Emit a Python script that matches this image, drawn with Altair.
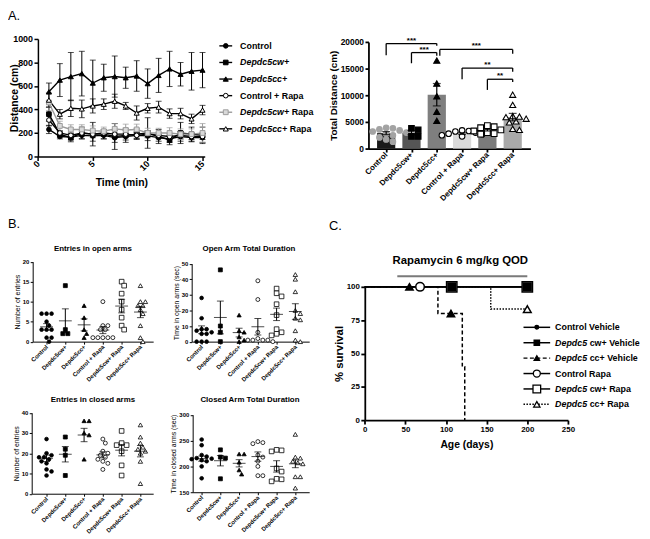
import altair as alt
import pandas as pd

FONT = "Liberation Sans"
W, H = 642, 531

# ---------------- Panel A (left): distance per minute (mean, SEM) ----------------
TIME_MIN = list(range(1, 16))
A_GROUPS = ["Control", "Depdc5cw+", "Depdc5cc+", "Control + Rapa", "Depdc5cw+ Rapa", "Depdc5cc+ Rapa"]
DIST_CONTROL = [230, 170, 165, 180, 175, 180, 160, 170, 180, 175, 160, 150, 170, 160, 160]
DIST_CW = [360, 190, 160, 200, 190, 190, 170, 180, 190, 200, 170, 140, 200, 190, 180]
DIST_CC = [550, 650, 680, 705, 625, 670, 680, 670, 685, 620, 690, 745, 700, 725, 735]
DIST_CONTROL_RAPA = [310, 200, 180, 200, 190, 200, 190, 190, 180, 190, 180, 170, 180, 170, 170]
DIST_CW_RAPA = [460, 260, 230, 230, 220, 215, 235, 225, 230, 200, 200, 200, 190, 190, 200]
DIST_CC_RAPA = [480, 360, 410, 405, 430, 445, 470, 430, 370, 410, 420, 365, 365, 320, 395]
SEM_CONTROL = [35, 20, 25, 30, 45, 30, 40, 30, 30, 40, 30, 30, 40, 35, 40]
SEM_CW = [60, 25, 35, 50, 100, 40, 110, 60, 45, 130, 60, 40, 90, 60, 70]
SEM_CC = [75, 140, 205, 190, 195, 115, 175, 90, 130, 125, 145, 150, 100, 160, 150]
SEM_CONTROL_RAPA = [50, 20, 20, 25, 30, 25, 30, 30, 25, 30, 25, 25, 30, 25, 25]
SEM_CW_RAPA = [70, 40, 40, 40, 40, 35, 45, 50, 45, 40, 40, 45, 45, 45, 80]
SEM_CC_RAPA = [60, 40, 70, 75, 60, 45, 60, 30, 60, 40, 50, 40, 45, 40, 40]

# ---------------- Panel A (right): total distance ----------------
TOTAL_CONTROL = [3900, 3800, 3600, 3400, 3200, 3000, 2800, 2500, 2100, 1700, 1300]
TOTAL_CW = [3800, 3500, 2300, 2300]
TOTAL_CC = [16500, 12200, 9800, 6900, 5200]
TOTAL_CONTROL_RAPA = [3400, 3300, 3200, 3000, 2800, 2700, 2500, 2300]
TOTAL_CW_RAPA = [4300, 4100, 3900, 3500, 3300, 3000, 2800, 2700]
TOTAL_CC_RAPA = [10100, 8200, 6100, 6000, 5900, 5600, 5100, 4900, 3700, 3500]
TOTAL_MEAN = [2900, 3000, 10100, 2800, 3500, 5900]
TOTAL_SEM = [280, 400, 2100, 150, 220, 700]
SIG_LEFT = ["Control", "Depdc5cw+", "Depdc5cc+", "Control + Rapa", "Depdc5cw+ Rapa"]
SIG_RIGHT = ["Depdc5cc+", "Depdc5cc+", "Depdc5cc+ Rapa", "Depdc5cc+ Rapa", "Depdc5cc+ Rapa"]
SIG_TOP = [19700, 18000, 18600, 15100, 13000]
SIG_LEFT_END = [17500, 16000, 17400, 13000, 11000]
SIG_RIGHT_END = [19300, 17400, 17800, 14400, 12500]
SIG_LABEL = ["***", "***", "***", "**", "**"]

# ---------------- Panel B: elevated plus maze ----------------
OPEN_ENTRIES = [[7, 7, 7, 5, 4, 3, 3, 3, 1, 1, 0], [14, 3, 2, 2], [9, 6, 3, 2, 1],
                [10, 4, 4, 3, 3, 1, 1, 1, 1, 1], [15, 14, 12, 10, 8, 6, 4, 3],
                [14, 10, 10, 9, 9, 8, 7, 4, 1, 0]]
OPEN_ENTRIES_MEAN = [3.7, 5.2, 4.2, 2.9, 8.9, 7.4]
OPEN_ENTRIES_SEM = [0.8, 3.0, 1.5, 0.9, 1.7, 1.4]

OPEN_TIME = [[28, 15, 8, 8, 7, 6, 5, 5, 0, 0, 0], [46, 10, 6, 0], [17, 7, 6, 3, 1, 0],
             [39, 27, 6, 2, 1, 1, 1, 1, 0], [34, 31, 29, 24, 17, 8, 6, 5, 4],
             [43, 40, 32, 20, 18, 15, 14, 7, 1, 0]]
OPEN_TIME_MEAN = [7.6, 15.5, 5.8, 9.5, 17.5, 19.3]
OPEN_TIME_SEM = [2.5, 10.5, 2.8, 5.3, 4.0, 5.0]

CLOSED_ENTRIES = [[27, 20, 19, 18, 18, 17, 16, 15, 12, 11, 9], [28, 22, 19, 9], [36, 36, 30, 29, 17],
                  [27, 25, 21, 20, 19, 18, 17, 16, 15, 12], [31, 25, 24, 24, 21, 14, 9],
                  [34, 28, 25, 23, 22, 21, 20, 16, 5]]
CLOSED_ENTRIES_MEAN = [17.5, 19.5, 29.0, 19.2, 21.5, 21.0]
CLOSED_ENTRIES_SEM = [1.6, 3.8, 3.3, 1.5, 2.8, 2.8]

CLOSED_TIME = [[252, 241, 222, 219, 216, 215, 214, 212, 210, 200, 177], [232, 218, 216, 176],
               [224, 224, 208, 193, 185], [248, 246, 244, 222, 218, 210, 200, 182, 182],
               [232, 231, 229, 196, 190, 176, 175, 171], [262, 218, 216, 210, 207, 205, 180, 180, 158]]
CLOSED_TIME_MEAN = [215, 211, 206, 219, 200, 205]
CLOSED_TIME_SEM = [5, 10, 7, 9, 11, 7.5]

# ---------------- Panel C: survival ----------------
C_GROUPS = ["Control Vehicle", "Depdc5 cw+ Vehicle", "Depdc5 cc+ Vehicle",
            "Control Rapa", "Depdc5 cw+ Rapa", "Depdc5 cc+ Rapa"]
SURV_DAYS = [[0, 202], [0, 202], [0, 90, 120, 123], [0, 202], [0, 202], [0, 155, 202]]
SURV_PCT = [[100, 100], [100, 100], [100, 80, 40, 0], [100, 100], [100, 100], [100, 83.3, 83.3]]
CENSOR_DAYS = [[200], [107, 200], [55, 106], [68], [107, 200], [200]]
CENSOR_PCT = [[100], [100, 100], [100, 80], [100], [100, 100], [83.3]]
RAPA_START_DAY, RAPA_END_DAY = 40, 200

# ---------------- styles ----------------
SHAPES = ["circle", "square", "triangle-up", "circle", "square", "triangle-up"]
A_COLOR = ["black", "black", "black", "black", "#9b9b9b", "black"]
A_FILL = ["black", "black", "black", "white", "#d9d9d9", "white"]
A_SIZE = [22, 22, 26, 22, 24, 26]
BAR_FILL = ["#1a1a1a", "#555555", "#7f7f7f", "#dadada", "#7b7b7b", "#a9a9a9"]
BAR_PT_FILL = ["#a3a3a3", "black", "black", "white", "white", "white"]
BAR_PT_STROKE = ["#a3a3a3", "black", "black", "black", "black", "black"]
BAR_PT_SIZE = [32, 32, 38, 32, 34, 38]
B_FILL = ["black", "black", "black", "white", "white", "white"]
B_SIZE = [14, 16, 18, 16, 22, 20]
C_DASH = [None, None, [4, 2.5], None, None, [1.5, 1.5]]
C_FILL = ["black", "black", "black", "white", "white", "white"]
C_SIZE = [14, 60, 55, 75, 110, 60]
C_LEG_SIZE = [14, 30, 30, 50, 60, 40]

BOLD_W = {' ': 278, '+': 584, 'D': 722, 'e': 556, 'p': 611, 'd': 611, 'c': 556, '5': 556, 'w': 778,
          'C': 722, 'o': 611, 'n': 611, 't': 333, 'r': 389, 'l': 278, 'R': 722, 'a': 556,
          'V': 667, 'h': 611, 'i': 278}


def text_w(s, fs):
    return sum(BOLD_W.get(ch, 556) for ch in s) / 1000.0 * fs


def mk_axis(orient, pos, values, label_size, title="", title_size=10, tick=4, width=1.5,
            label_angle=0, label_expr="", fmt="", title_weight="bold", title_padding=2,
            title_x=None, title_y=None, label_weight="bold"):
    kw = dict(orient=orient, offset=(-pos if orient == "left" else pos - H), values=values,
              grid=False, domainColor="black", domainWidth=width, tickColor="black",
              tickWidth=width, tickSize=tick, labelFont=FONT, labelFontSize=label_size,
              labelFontWeight=label_weight, labelColor="black", labelPadding=1.5, labelFlush=False,
              labelOverlap=False, labelAngle=label_angle, titleFont=FONT, titleFontSize=title_size,
              titleFontWeight=title_weight, titleColor="black", titlePadding=title_padding,
              title=title)
    if label_angle:
        kw["labelAlign"] = "right"
        kw["labelBaseline"] = "middle"
    if label_expr:
        kw["labelExpr"] = label_expr
    if fmt:
        kw["format"] = fmt
    if title_x is not None:
        kw["titleX"] = title_x
    if title_y is not None:
        kw["titleY"] = title_y
    return alt.Axis(**kw)


def swarm(values, y_ppu, d, base=0.0):
    order = [0]
    for k in range(1, 15):
        order += [k, -k]
    placed, offs = [], []
    for v in values:
        yp = (v - base) * y_ppu
        xp = 0.0
        for k in order:
            xp = k * d * 0.55
            if all((xp - a) ** 2 + (yp - b) ** 2 >= (0.95 * d) ** 2 for a, b in placed):
                break
        placed.append((xp, yp))
        offs.append(xp)
    return offs


def txt(t, x, y, size, weight="normal", align="center", baseline="middle", style="normal"):
    return alt.Chart(pd.DataFrame({"t": [t]})).mark_text(
        font=FONT, fontSize=size, fontWeight=weight, fontStyle=style, align=align,
        baseline=baseline, color="black").encode(x=alt.value(x), y=alt.value(y), text="t:N")


def label_expr(names):
    return "[" + ",".join("'" + n + "'" for n in names) + "][datum.value]"


layers = []

# ================= Panel A line chart =================
xsA = alt.Scale(domain=[0, 15.2], range=[30.3, 199.2], nice=False, zero=False)
ysA = alt.Scale(domain=[0, 1000], range=[147, 28], nice=False, zero=False)
xaA = mk_axis("bottom", 147, [0, 5, 10, 15], 9, title="Time (min)", title_size=10.5,
              label_angle=-45, title_padding=5)
yaA = mk_axis("left", 30.3, [0, 200, 400, 600, 800, 1000], 9, title="Distance (cm)",
              title_size=10.5, title_x=-19, title_y=87.5, fmt="d")
A_SERIES = [DIST_CONTROL, DIST_CW, DIST_CC, DIST_CONTROL_RAPA, DIST_CW_RAPA, DIST_CC_RAPA]
A_SEMS = [SEM_CONTROL, SEM_CW, SEM_CC, SEM_CONTROL_RAPA, SEM_CW_RAPA, SEM_CC_RAPA]
err_l, line_l, pt_l = [], [], []
for i, (g, ys, ss) in enumerate(zip(A_GROUPS, A_SERIES, A_SEMS)):
    d = pd.DataFrame({"time": TIME_MIN, "dist": ys,
                      "lo": [a - b for a, b in zip(ys, ss)], "hi": [a + b for a, b in zip(ys, ss)]})
    c = A_COLOR[i]
    X0 = alt.X("time:Q", scale=xsA, axis=xaA if i == 0 else None)
    Xn = alt.X("time:Q", scale=xsA, axis=None)
    err_l.append(alt.Chart(d).mark_rule(color=c, strokeWidth=1).encode(
        x=X0, y=alt.Y("lo:Q", scale=ysA, axis=yaA if i == 0 else None), y2="hi:Q"))
    for f in ("lo", "hi"):
        err_l.append(alt.Chart(d).mark_tick(orient="horizontal", size=6, thickness=1, color=c).encode(
            x=Xn, y=alt.Y(f + ":Q", scale=ysA, axis=None)))
    line_l.append(alt.Chart(d).mark_line(color=c, strokeWidth=1.4).encode(
        x=Xn, y=alt.Y("dist:Q", scale=ysA, axis=None)))
    pt_l.append(alt.Chart(d).mark_point(filled=True, shape=SHAPES[i], size=A_SIZE[i], fill=A_FILL[i],
                                        stroke=c, strokeWidth=1, opacity=1).encode(
        x=Xn, y=alt.Y("dist:Q", scale=ysA, axis=None)))
layers += err_l + line_l + pt_l

# legend A
for i, g in enumerate(A_GROUPS):
    yy = 35 + 16.8 * i
    c = A_COLOR[i]
    layers.append(alt.Chart(pd.DataFrame({"a": [0]})).mark_rule(color=c, strokeWidth=1.4).encode(
        x=alt.value(214), x2=alt.value(227), y=alt.value(yy)))
    layers.append(alt.Chart(pd.DataFrame({"a": [0]})).mark_point(
        filled=True, shape=SHAPES[i], size=A_SIZE[i], fill=A_FILL[i], stroke=c, strokeWidth=1,
        opacity=1).encode(x=alt.value(220.5), y=alt.value(yy)))
    if g.startswith("Depdc5"):
        parts = g.split(" ", 1)
        layers.append(txt(parts[0], 235, yy, 9, "bold", "left", "middle", "italic"))
        if len(parts) > 1:
            layers.append(txt(parts[1], 235 + text_w(parts[0] + " ", 9), yy, 9, "bold", "left"))
    else:
        layers.append(txt(g, 235, yy, 9, "bold", "left"))

# ================= Panel A bar chart =================
xsB = alt.Scale(domain=[-0.7, 5.7], range=[365, 529], nice=False, zero=False)
ysB = alt.Scale(domain=[0, 20000], range=[139, 31], nice=False, zero=False)
xaB = mk_axis("bottom", 139, list(range(6)), 8, label_angle=-45, label_expr=label_expr(A_GROUPS),
              tick=3.5, width=1.8)
yaB = mk_axis("left", 365, [0, 5000, 10000, 15000, 20000], 8.5, title="Total Distance (cm)",
              title_size=10, fmt="d", tick=3.5, width=1.8)
x_ppu_B = 164 / 6.4
y_ppu_B = 108 / 20000
TOTALS = [TOTAL_CONTROL, TOTAL_CW, TOTAL_CC, TOTAL_CONTROL_RAPA, TOTAL_CW_RAPA, TOTAL_CC_RAPA]
df_bar = pd.DataFrame({"idx": list(range(6)), "mean": TOTAL_MEAN,
                       "lo": [m - s for m, s in zip(TOTAL_MEAN, TOTAL_SEM)],
                       "hi": [m + s for m, s in zip(TOTAL_MEAN, TOTAL_SEM)],
                       "x0": [i - 0.36 for i in range(6)], "x1": [i + 0.36 for i in range(6)],
                       "zero": [0] * 6})
for i in range(6):
    d = df_bar[df_bar.idx == i]
    layers.append(alt.Chart(d).mark_rect(fill=BAR_FILL[i]).encode(
        x=alt.X("x0:Q", scale=xsB, axis=xaB if i == 0 else None), x2="x1:Q",
        y=alt.Y("mean:Q", scale=ysB, axis=yaB if i == 0 else None), y2="zero:Q"))
for i, vals in enumerate(TOTALS):
    offs = swarm(vals, y_ppu_B, 6.2)
    d = pd.DataFrame({"value": vals, "xpos": [i + o / x_ppu_B for o in offs]})
    layers.append(alt.Chart(d).mark_point(filled=True, shape=SHAPES[i], size=BAR_PT_SIZE[i],
                                          fill=BAR_PT_FILL[i], stroke=BAR_PT_STROKE[i],
                                          strokeWidth=1.1, opacity=1).encode(
        x=alt.X("xpos:Q", scale=xsB, axis=None), y=alt.Y("value:Q", scale=ysB, axis=None)))
layers.append(alt.Chart(df_bar).mark_rule(color="black", strokeWidth=1.2).encode(
    x=alt.X("idx:Q", scale=xsB, axis=None), y=alt.Y("lo:Q", scale=ysB, axis=None), y2="hi:Q"))
for f in ("lo", "hi"):
    layers.append(alt.Chart(df_bar).mark_tick(orient="horizontal", size=8, thickness=1.2,
                                              color="black").encode(
        x=alt.X("idx:Q", scale=xsB, axis=None), y=alt.Y(f + ":Q", scale=ysB, axis=None)))
# significance brackets
xl = []
for lg in SIG_LEFT:
    v = A_GROUPS.index(lg)
    xl.append(v + (0.12 if lg in SIG_RIGHT else 0.0))
xr = [A_GROUPS.index(g) for g in SIG_RIGHT]
df_sig = pd.DataFrame({"xl": xl, "xr": xr, "top": SIG_TOP, "le": SIG_LEFT_END, "re": SIG_RIGHT_END,
                       "xm": [(a + b) / 2 for a, b in zip(xl, xr)], "label": SIG_LABEL})


def XS(f):
    return alt.X(f, scale=xsB, axis=None)


def YS(f):
    return alt.Y(f, scale=ysB, axis=None)


layers.append(alt.Chart(df_sig).mark_rule(color="black", strokeWidth=1.3).encode(
    x=XS("xl:Q"), x2="xr:Q", y=YS("top:Q")))
layers.append(alt.Chart(df_sig).mark_rule(color="black", strokeWidth=1.3).encode(
    x=XS("xl:Q"), y=YS("top:Q"), y2="le:Q"))
layers.append(alt.Chart(df_sig).mark_rule(color="black", strokeWidth=1.3).encode(
    x=XS("xr:Q"), y=YS("top:Q"), y2="re:Q"))
layers.append(alt.Chart(df_sig).mark_text(font=FONT, fontSize=8, fontWeight="bold", baseline="alphabetic",
                                          dy=-1, color="black").encode(
    x=XS("xm:Q"), y=YS("top:Q"), text="label:N"))


# ================= Panel B =================
def dot_panel(lists, means, sems, xr_, xdom, yr_, ydom, yticks, ytitle, title, tx, ty):
    out = []
    x_ppu = (xr_[1] - xr_[0]) / (xdom[1] - xdom[0])
    y_ppu = (yr_[0] - yr_[1]) / (ydom[1] - ydom[0])
    xs = alt.Scale(domain=xdom, range=xr_, nice=False, zero=False)
    ys = alt.Scale(domain=ydom, range=yr_, nice=False, zero=False)
    xa = mk_axis("bottom", yr_[0], list(range(6)), 6, label_angle=-45,
                 label_expr=label_expr(A_GROUPS), tick=2.5, width=1)
    ya = mk_axis("left", xr_[0], yticks, 6, title=ytitle, title_size=7, title_weight="normal",
                 tick=2.5, width=1)
    summ = pd.DataFrame({"idx": list(range(6)), "mean": means,
                         "lo": [m - s for m, s in zip(means, sems)],
                         "hi": [m + s for m, s in zip(means, sems)]})
    for i, vals in enumerate(lists):
        offs = swarm(vals, y_ppu, 4.6, ydom[0])
        d = pd.DataFrame({"value": vals, "xpos": [i + o / x_ppu for o in offs]})
        out.append(alt.Chart(d).mark_point(filled=True, shape=SHAPES[i], size=B_SIZE[i], fill=B_FILL[i],
                                           stroke="black", strokeWidth=0.8, opacity=1).encode(
            x=alt.X("xpos:Q", scale=xs, axis=xa if i == 0 else None),
            y=alt.Y("value:Q", scale=ys, axis=ya if i == 0 else None)))
    out.append(alt.Chart(summ).mark_rule(color="black", strokeWidth=1).encode(
        x=alt.X("idx:Q", scale=xs, axis=None), y=alt.Y("lo:Q", scale=ys, axis=None), y2="hi:Q"))
    for f, sz in (("mean", 13), ("lo", 7), ("hi", 7)):
        out.append(alt.Chart(summ).mark_tick(orient="horizontal", size=sz, thickness=1,
                                             color="black").encode(
            x=alt.X("idx:Q", scale=xs, axis=None), y=alt.Y(f + ":Q", scale=ys, axis=None)))
    out.append(txt(title, tx, ty, 8, "bold"))
    return out


layers += dot_panel(OPEN_ENTRIES, OPEN_ENTRIES_MEAN, OPEN_ENTRIES_SEM, [25, 147], [-0.74, 5.68],
                    [334.5, 253.5], [0, 20], [0, 5, 10, 15, 20], "Number of entries",
                    "Entries in open arms", 86, 241)
layers += dot_panel(OPEN_TIME, OPEN_TIME_MEAN, OPEN_TIME_SEM, [186, 305], [-0.53, 5.74],
                    [334.5, 255.5], [0, 50], [0, 10, 20, 30, 40, 50], "Time in open arms (sec)",
                    "Open Arm Total Duration", 244, 241)
layers += dot_panel(CLOSED_ENTRIES, CLOSED_ENTRIES_MEAN, CLOSED_ENTRIES_SEM, [24, 147], [-0.79, 5.68],
                    [488.5, 406.5], [0, 40], [0, 10, 20, 30, 40], "Number of entries",
                    "Entries in closed arms", 86, 394)
layers += dot_panel(CLOSED_TIME, CLOSED_TIME_MEAN, CLOSED_TIME_SEM, [187, 305], [-0.48, 5.74],
                    [487, 408.5], [150, 300], [150, 200, 250, 300], "Time in closed arms (sec)",
                    "Closed Arm Total Duration", 245, 394)

# ================= Panel C survival =================
xsC = alt.Scale(domain=[0, 250], range=[361.3, 567], nice=False, zero=False)
ysC = alt.Scale(domain=[0, 100], range=[414, 279], nice=False, zero=False)
xaC = mk_axis("bottom", 414, [0, 50, 100, 150, 200, 250], 8, title="Age (days)", title_size=10.5,
              width=1.8, title_padding=6)
yaC = mk_axis("left", 361.3, [0, 25, 50, 75, 100], 8, title="% survival", title_size=11.5, width=1.8)
draw_order = [2, 5, 0, 1, 3, 4]
for n, i in enumerate(draw_order):
    d = pd.DataFrame({"day": SURV_DAYS[i], "pct": SURV_PCT[i]})
    mk = dict(interpolate="step-after", color="black", strokeWidth=1.5)
    if C_DASH[i]:
        mk["strokeDash"] = C_DASH[i]
    layers.append(alt.Chart(d).mark_line(**mk).encode(
        x=alt.X("day:Q", scale=xsC, axis=xaC if n == 0 else None),
        y=alt.Y("pct:Q", scale=ysC, axis=yaC if n == 0 else None)))
for i in [4, 3, 5, 0, 1, 2]:
    d = pd.DataFrame({"day": CENSOR_DAYS[i], "pct": CENSOR_PCT[i]})
    layers.append(alt.Chart(d).mark_point(filled=True, shape=SHAPES[i], size=C_SIZE[i], fill=C_FILL[i],
                                          stroke="black", strokeWidth=1.5, opacity=1).encode(
        x=alt.X("day:Q", scale=xsC, axis=None), y=alt.Y("pct:Q", scale=ysC, axis=None)))
TREAT_LEVEL = 108
df_tr = pd.DataFrame({"s": [RAPA_START_DAY], "e": [RAPA_END_DAY], "lev": [TREAT_LEVEL]})
layers.append(alt.Chart(df_tr).mark_rule(color="#7a7a7a", strokeWidth=2).encode(
    x=alt.X("s:Q", scale=xsC, axis=None), x2="e:Q", y=alt.Y("lev:Q", scale=ysC, axis=None)))
layers.append(txt("Rapamycin 6 mg/kg QOD", 458, 253, 11.5, "bold"))

# legend C
for i, g in enumerate(C_GROUPS):
    yy = 320 + 15.6 * i
    rk = dict(color="black", strokeWidth=1.5)
    if C_DASH[i]:
        rk["strokeDash"] = C_DASH[i]
    layers.append(alt.Chart(pd.DataFrame({"a": [0]})).mark_rule(**rk).encode(
        x=alt.value(522), x2=alt.value(549), y=alt.value(yy)))
    layers.append(alt.Chart(pd.DataFrame({"a": [0]})).mark_point(
        filled=True, shape=SHAPES[i], size=C_LEG_SIZE[i], fill=C_FILL[i], stroke="black",
        strokeWidth=1.3, opacity=1).encode(x=alt.value(535.5), y=alt.value(yy)))
    if g.startswith("Depdc5"):
        rest = g[len("Depdc5 "):]
        layers.append(txt("Depdc5", 554, yy, 9, "bold", "left", "middle", "italic"))
        layers.append(txt(rest, 554 + text_w("Depdc5 ", 9), yy, 9, "bold", "left"))
    else:
        layers.append(txt(g, 554, yy, 9, "bold", "left"))

# panel letters
layers.append(txt("A.", 0, 9, 13, "normal", "left", "alphabetic"))
layers.append(txt("B.", 0, 219, 13, "normal", "left", "alphabetic"))
layers.append(txt("C.", 325, 221, 13, "normal", "left", "alphabetic"))

chart = alt.layer(*layers).resolve_scale(x="independent", y="independent").resolve_axis(
    x="independent", y="independent").properties(
    width=W, height=H, padding=0, autosize=alt.AutoSizeParams(type="none")
).configure(font=FONT).configure_view(stroke=None)

chart.save("out.html", embed_options={"renderer": "svg", "actions": False})
